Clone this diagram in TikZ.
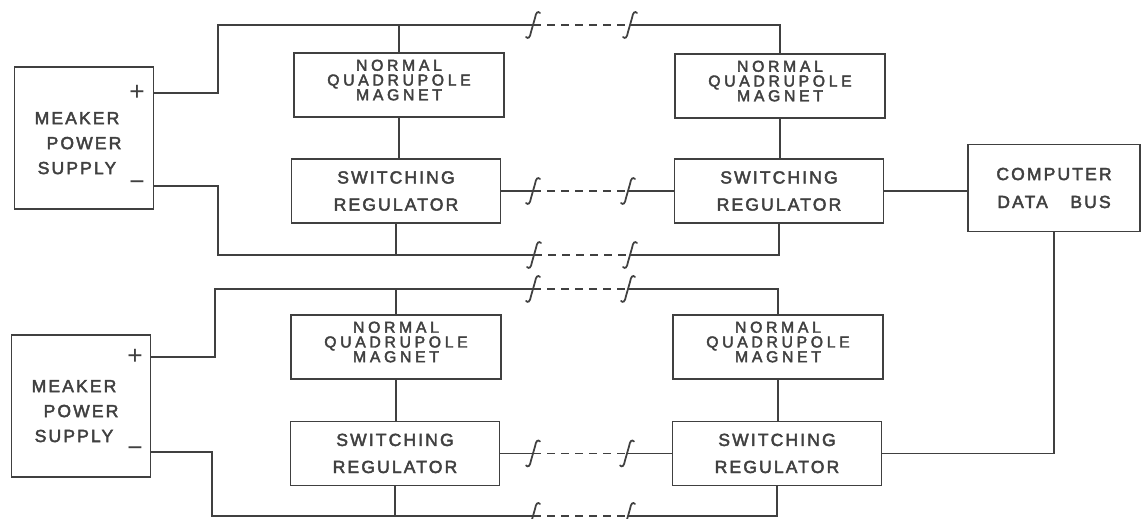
\documentclass[tikz,border=0pt]{standalone}
\usepackage{fontspec}
\setmainfont{Liberation Sans}
\newfontfamily\plate[LetterSpace=12, FakeBold=2.5]{Liberation Sans}
\newfontfamily\platewide[LetterSpace=23, FakeBold=2.5]{Liberation Sans}
\definecolor{ink}{gray}{0.25}

\tikzset{
  blk/.style={draw, line width=1pt, align=center, inner sep=0pt},
  psbox/.style={blk, minimum width=2.78cm, minimum height=2.84cm, font=\plate\fontsize{10}{14.2}\selectfont},
  magbox/.style={blk, minimum width=4.2cm, minimum height=1.27cm, text depth=0.2cm, font=\platewide\fontsize{9}{8.4}\selectfont},
  regbox/.style={blk, minimum width=4.18cm, minimum height=1.28cm, font=\plate\fontsize{10}{15.4}\selectfont},
  wire/.style={line width=1pt},
  gap/.style={wire, dash pattern=on 4.5pt off 3.5pt},
  pole/.style={font=\fontsize{15}{15}\selectfont, inner sep=0pt},
  brk/.pic={\draw[wire, line cap=round] (-7,12) .. controls (-5,14) and (-3,13) .. (-2,7) -- (2,-7) .. controls (3,-13) and (5,-14) .. (7,-12);}
}
\newcommand{\pslabel}{MEAKER\rule{0pt}{0.45cm}\hspace*{0.28cm}\\POWER\hspace*{0.28cm}\\SUPPLY\hspace*{0.28cm}}

\begin{document}
\begin{tikzpicture}[x=0.02cm, y=-0.02cm, color=ink]
\useasboundingbox (0,0) rectangle (1146,519);
% first string of magnets
\begin{scope}
\node[psbox] (ps1) at (84,138) {\pslabel};
\node[pole] (pp1) at (137,93) {+};
\node[pole] (pm1) at (137,186) {−};
\node[magbox] (mag1) at (399,85) {NORMAL\\QUADRUPOLE\\MAGNET};
\node[regbox] (reg1) at (396,191) {SWITCHING\\REGULATOR};
\node[magbox] (mag2) at (780,86) {NORMAL\\QUADRUPOLE\\MAGNET};
\node[regbox] (reg2) at (779,191) {SWITCHING\\REGULATOR};
\coordinate (tl1) at (218,25);
\coordinate (bl1) at (218,255);
\coordinate (ta1) at (533,25);
\coordinate (tb1) at (630,25);
\coordinate (ma1) at (533,191);
\coordinate (mb1) at (628,191);
\coordinate (ba1) at (534,255);
\coordinate (bb1) at (630,255);
% + bus
\draw[wire] (pp1 -| ps1.east) -| (tl1) -- (ta1);
\draw[gap] (ta1) -- (tb1);
\draw[wire] (tb1) -| (mag2.north);
\draw[wire] (mag1.north |- tl1) -- (mag1.north);
% - bus
\draw[wire] (pm1 -| ps1.east) -| (bl1) -- (ba1);
\draw[gap] (ba1) -- (bb1);
\draw[wire] (bb1) -| (reg2.south);
\draw[wire] (reg1.south) -- (reg1.south |- bl1);
% magnet to regulator
\draw[wire] (mag1.south) -- (mag1.south |- reg1.north);
\draw[wire] (mag2.south) -- (mag2.south |- reg2.north);
% regulator link
\draw[wire] (reg1.east) -- (ma1);
\draw[gap] (ma1) -- (mb1);
\draw[wire] (mb1) -- (reg2.west);
\foreach \c in {ta1,tb1,ma1,mb1,ba1,bb1} \pic at (\c) {brk};
\end{scope}
% second string of magnets
\begin{scope}[yshift=-5.26cm]
\node[psbox] (ps2) at (81,143) {\pslabel};
\node[pole] (pp2) at (135,94) {+};
\node[pole] (pm2) at (135,189) {−};
\node[magbox] (mag3) at (396,84) {NORMAL\\QUADRUPOLE\\MAGNET};
\node[regbox] (reg3) at (395,190.5) {SWITCHING\\REGULATOR};
\node[magbox] (mag4) at (778,84) {NORMAL\\QUADRUPOLE\\MAGNET};
\node[regbox] (reg4) at (777,190.5) {SWITCHING\\REGULATOR};
\coordinate (tl2) at (215,26);
\coordinate (bl2) at (212,253);
\coordinate (ta2) at (533,26);
\coordinate (tb2) at (628,26);
\coordinate (ma2) at (533,190.5);
\coordinate (mb2) at (627,190.5);
\coordinate (ba2) at (533,253);
\coordinate (bb2) at (628,253);
% + bus
\draw[wire] (pp2 -| ps2.east) -| (tl2) -- (ta2);
\draw[gap] (ta2) -- (tb2);
\draw[wire] (tb2) -| (mag4.north);
\draw[wire] (mag3.north |- tl2) -- (mag3.north);
% - bus
\draw[wire] (pm2 -| ps2.east) -| (bl2) -- (ba2);
\draw[gap] (ba2) -- (bb2);
\draw[wire] (bb2) -| (reg4.south);
\draw[wire] (reg3.south) -- (reg3.south |- bl2);
% magnet to regulator
\draw[wire] (mag3.south) -- (mag3.south |- reg3.north);
\draw[wire] (mag4.south) -- (mag4.south |- reg4.north);
% regulator link
\draw[wire] (reg3.east) -- (ma2);
\draw[gap] (ma2) -- (mb2);
\draw[wire] (mb2) -- (reg4.west);
\foreach \c in {ta2,tb2,ma2,mb2,ba2,bb2} \pic at (\c) {brk};
\end{scope}
% computer
\node[blk, minimum width=3.44cm, minimum height=1.74cm, font=\plate\fontsize{10}{15.9}\selectfont] (cpu) at (1054,188) {COMPUTER\\DATA\hspace{0.45cm}BUS};
\draw[wire] (reg2.east) -- (reg2.east -| cpu.west);
\draw[wire] (cpu.south) |- (reg4.east);
\end{tikzpicture}
\end{document}
